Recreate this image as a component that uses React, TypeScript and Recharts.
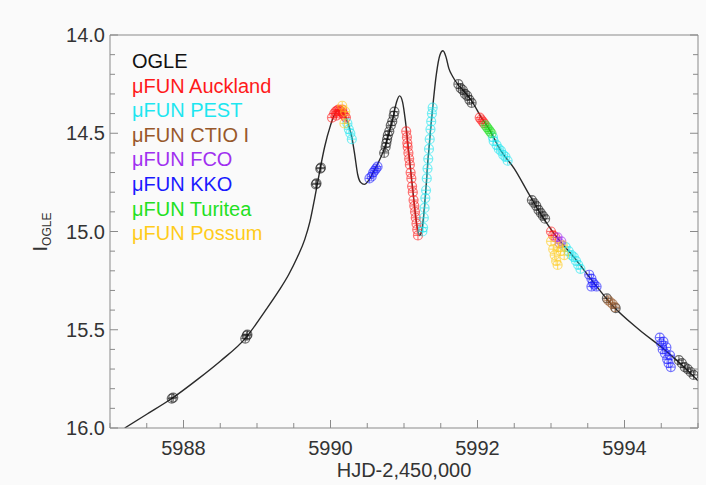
import React from 'react'
import {
  ComposedChart,
  Legend,
  Line,
  Scatter,
  XAxis,
  YAxis,
} from 'recharts'

// model light curve (HJD-2450000, I mag)
const modelDay = [
  5987.2, 5987.5, 5987.84, 5988.2, 5988.5, 5988.85, 5989.1, 5989.3, 5989.43,
  5989.55, 5989.65, 5989.72, 5989.78, 5989.82, 5989.86, 5989.92, 5990.0, 5990.06,
  5990.12, 5990.18, 5990.24, 5990.29, 5990.33, 5990.37, 5990.41, 5990.46,
  5990.52, 5990.58, 5990.65, 5990.72, 5990.78, 5990.85, 5990.9, 5990.94,
  5990.98, 5991.02, 5991.06, 5991.12, 5991.18, 5991.21, 5991.24, 5991.28,
  5991.33, 5991.39, 5991.44, 5991.49, 5991.53, 5991.57, 5991.61, 5991.66,
  5991.73, 5991.8, 5991.91, 5992.07, 5992.16, 5992.31, 5992.5, 5992.7,
  5992.86, 5993.06, 5993.31, 5993.58, 5993.82, 5994.2, 5994.54, 5994.81, 5995.0,
]
const modelMag = [
  16.0, 15.93, 15.85, 15.75, 15.66, 15.54, 15.41, 15.3, 15.22,
  15.13, 15.04, 14.95, 14.84, 14.76, 14.68, 14.57, 14.46, 14.4,
  14.38, 14.4, 14.45, 14.52, 14.61, 14.71, 14.75, 14.76,
  14.74, 14.7, 14.65, 14.59, 14.52, 14.42, 14.34, 14.31,
  14.34, 14.44, 14.58, 14.79, 14.98, 15.02, 15.0, 14.87,
  14.62, 14.37, 14.2, 14.1, 14.08, 14.11, 14.17, 14.21,
  14.25, 14.28, 14.33, 14.43, 14.48, 14.585, 14.68, 14.81,
  14.91, 15.02, 15.13, 15.26, 15.37, 15.5, 15.6, 15.69, 15.76,
]

// observations [day, mag]
const ogle = [
  [5987.84, 15.85], [5987.86, 15.845], [5988.84, 15.545], [5988.86, 15.53],
  [5988.87, 15.525], [5989.8, 14.76], [5989.81, 14.755], [5989.86, 14.68],
  [5989.87, 14.675], [5990.73, 14.6], [5990.75, 14.57], [5990.76, 14.55],
  [5990.77, 14.53], [5990.78, 14.51], [5990.8, 14.49], [5990.82, 14.46],
  [5990.84, 14.44], [5990.86, 14.41], [5990.87, 14.39], [5991.74, 14.25],
  [5991.77, 14.27], [5991.8, 14.28], [5991.83, 14.3], [5991.86, 14.31],
  [5991.89, 14.33], [5991.92, 14.345], [5992.74, 14.84], [5992.77, 14.855],
  [5992.8, 14.87], [5992.83, 14.89], [5992.86, 14.905], [5992.89, 14.92],
  [5992.92, 14.935], [5993.76, 15.34], [5993.88, 15.39], [5994.74, 15.655],
  [5994.78, 15.67], [5994.82, 15.69], [5994.86, 15.7], [5994.9, 15.715],
  [5994.94, 15.73],
]
const auckland = [
  [5990.02, 14.42], [5990.05, 14.4], [5990.07, 14.39], [5990.09, 14.385],
  [5990.11, 14.38], [5990.13, 14.385], [5990.15, 14.39], [5990.17, 14.4],
  [5990.19, 14.41], [5990.08, 14.41], [5990.12, 14.4], [5990.16, 14.38],
  [5990.21, 14.42], [5991.03, 14.49], [5991.04, 14.52], [5991.045, 14.55],
  [5991.05, 14.57], [5991.06, 14.6], [5991.07, 14.63], [5991.08, 14.66],
  [5991.09, 14.7], [5991.1, 14.73], [5991.11, 14.77], [5991.12, 14.8],
  [5991.13, 14.84], [5991.14, 14.87], [5991.15, 14.9], [5991.16, 14.93],
  [5991.17, 14.96], [5991.18, 14.99], [5991.19, 15.02], [5992.03, 14.42],
  [5992.05, 14.43], [5992.07, 14.44], [5992.09, 14.45], [5993.0, 15.0],
  [5993.03, 15.02], [5993.06, 15.03],
]
const pest = [
  [5990.23, 14.45], [5990.25, 14.48], [5990.27, 14.5], [5990.29, 14.53],
  [5991.25, 15.0], [5991.26, 14.98], [5991.27, 14.93], [5991.28, 14.88],
  [5991.29, 14.83], [5991.3, 14.79], [5991.31, 14.73], [5991.32, 14.68],
  [5991.33, 14.63], [5991.34, 14.58], [5991.35, 14.53], [5991.36, 14.48],
  [5991.37, 14.44], [5991.38, 14.4], [5991.39, 14.37], [5992.21, 14.52],
  [5992.22, 14.54], [5992.26, 14.56], [5992.29, 14.58], [5992.32, 14.59],
  [5992.35, 14.61], [5992.38, 14.62], [5992.41, 14.64], [5993.2, 15.08],
  [5993.24, 15.1], [5993.28, 15.12], [5993.31, 15.13], [5993.34, 15.15],
  [5993.37, 15.17], [5993.4, 15.19],
]
const ctio = [[5993.78, 15.35], [5993.81, 15.36], [5993.84, 15.37], [5993.87, 15.385]]
const fco = [[5993.09, 15.03], [5993.12, 15.06], [5993.14, 15.05]]
const kko = [
  [5990.53, 14.73], [5990.56, 14.72], [5990.58, 14.7], [5990.6, 14.69],
  [5990.62, 14.68], [5990.64, 14.67], [5993.52, 15.22], [5993.55, 15.24],
  [5993.57, 15.26], [5993.59, 15.27], [5993.62, 15.28], [5993.55, 15.28],
  [5994.48, 15.54], [5994.5, 15.57], [5994.52, 15.6], [5994.53, 15.56],
  [5994.55, 15.62], [5994.57, 15.59], [5994.58, 15.65], [5994.6, 15.67],
  [5994.62, 15.63], [5994.63, 15.69],
]
const turitea = [[5992.11, 14.46], [5992.13, 14.47], [5992.15, 14.48], [5992.17, 14.49], [5992.19, 14.5]]
const possum = [
  [5990.16, 14.36], [5990.2, 14.39], [5990.19, 14.45], [5993.0, 15.05],
  [5993.03, 15.09], [5993.05, 15.12], [5993.07, 15.15], [5993.1, 15.08],
  [5993.13, 15.1], [5993.16, 15.07], [5993.18, 15.12], [5993.09, 15.17],
]

const seriesNames = [
  'OGLE', 'μFUN Auckland', 'μFUN PEST', 'μFUN CTIO I',
  'μFUN FCO', 'μFUN KKO', 'μFUN Turitea', 'μFUN Possum',
]
const seriesColors = [
  '#111111', '#ff1a1a', '#1ee6f0', '#98582a',
  '#a030f0', '#1a1aff', '#22e022', '#ffcc1a',
]
const seriesData = [ogle, auckland, pest, ctio, fco, kko, turitea, possum]

const xTicks = [
  5987, 5987.5, 5988, 5988.5, 5989, 5989.5, 5990, 5990.5, 5991, 5991.5,
  5992, 5992.5, 5993, 5993.5, 5994, 5994.5, 5995,
]
const xLabels = [5988, 5990, 5992, 5994]
const yTicks = [
  14.0, 14.1, 14.2, 14.3, 14.4, 14.5, 14.6, 14.7, 14.8, 14.9, 15.0,
  15.1, 15.2, 15.3, 15.4, 15.5, 15.6, 15.7, 15.8, 15.9, 16.0,
]
const yLabels = [14.0, 14.5, 15.0, 15.5, 16.0]

const model = modelDay.map((x, i) => ({ x, y: modelMag[i] }))
const toPts = (arr: number[][]) => arr.map(([x, y]) => ({ x, y }))

const FONT = '"Liberation Sans", Arial, Helvetica, sans-serif'
const AXIS = '#8a8a8a'
const TEXT = '#333333'

const Marker = (props: any) => {
  const { cx, cy, color } = props
  if (cx == null || cy == null) return null
  return (
    <g stroke={color} strokeOpacity={0.6} fill="none" strokeWidth={1.2}>
      <circle cx={cx} cy={cy} r={4.5} />
      <line x1={cx - 4} x2={cx + 4} y1={cy} y2={cy} />
      <line x1={cx} x2={cx} y1={cy - 4} y2={cy + 4} />
    </g>
  )
}

const BottomTick = (props: any) => {
  const { x, y, payload } = props
  const major = xLabels.includes(payload.value)
  return (
    <g>
      <line x1={x} x2={x} y1={y} y2={y - (major ? 8 : 5)} stroke={AXIS} />
      {major && (
        <text x={x} y={y + 27} textAnchor="middle" fontSize={20} fontFamily={FONT} fill={TEXT}>
          {payload.value}
        </text>
      )}
    </g>
  )
}

const TopTick = (props: any) => {
  const { x, y, payload } = props
  const major = xLabels.includes(payload.value)
  return <line x1={x} x2={x} y1={y} y2={y + (major ? 8 : 5)} stroke={AXIS} />
}

const LeftTick = (props: any) => {
  const { x, y, payload } = props
  const major = yLabels.includes(payload.value)
  return (
    <g>
      <line x1={x} x2={x + (major ? 8 : 5)} y1={y} y2={y} stroke={AXIS} />
      {major && (
        <text x={x - 5} y={y} dy="0.36em" textAnchor="end" fontSize={20} fontFamily={FONT} fill={TEXT}>
          {payload.value.toFixed(1)}
        </text>
      )}
    </g>
  )
}

const RightTick = (props: any) => {
  const { x, y, payload } = props
  const major = yLabels.includes(payload.value)
  return <line x1={x} x2={x - (major ? 8 : 5)} y1={y} y2={y} stroke={AXIS} />
}

const renderXLabel = () => (
  <text x={404} y={477} textAnchor="middle" fontSize={20} fontFamily={FONT} fill={TEXT}>
    HJD-2,450,000
  </text>
)

const renderYLabel = () => (
  <text
    x={47}
    y={232}
    transform="rotate(-90, 47, 232)"
    textAnchor="middle"
    fontFamily={FONT}
    fill={TEXT}
  >
    <tspan fontSize={20}>I</tspan>
    <tspan fontSize={12} dy={4}>OGLE</tspan>
  </text>
)

const LegendBox = () => (
  <div style={{ fontFamily: FONT, fontSize: 20, lineHeight: '24.6px', whiteSpace: 'nowrap' }}>
    {seriesNames.map((name, i) => (
      <div key={name} style={{ color: seriesColors[i] }}>{name}</div>
    ))}
  </div>
)

export default function App() {
  return (
    <div style={{ position: 'absolute', left: 0, top: 0, width: 706, height: 485, background: '#fafafa' }}>
      <ComposedChart width={706} height={485} margin={{ top: 0, right: 0, bottom: 0, left: 0 }}>
        <XAxis
          dataKey="x"
          type="number"
          domain={[5987, 5995]}
          allowDataOverflow
          ticks={xTicks}
          interval={0}
          height={57}
          tickSize={0}
          tickMargin={0}
          tick={<BottomTick />}
          stroke={AXIS}
          label={renderXLabel}
        />
        <XAxis
          xAxisId="top"
          orientation="top"
          type="number"
          domain={[5987, 5995]}
          allowDataOverflow
          ticks={xTicks}
          interval={0}
          height={35}
          tickSize={0}
          tickMargin={0}
          tick={<TopTick />}
          stroke={AXIS}
        />
        <YAxis
          dataKey="y"
          type="number"
          domain={[14, 16]}
          reversed
          allowDataOverflow
          ticks={yTicks}
          interval={0}
          width={110}
          tickSize={0}
          tickMargin={0}
          tick={<LeftTick />}
          stroke={AXIS}
          label={renderYLabel}
        />
        <YAxis
          yAxisId="right"
          orientation="right"
          type="number"
          domain={[14, 16]}
          reversed
          allowDataOverflow
          ticks={yTicks}
          interval={0}
          width={8}
          tickSize={0}
          tickMargin={0}
          tick={<RightTick />}
          stroke={AXIS}
        />
        <Legend
          layout="horizontal"
          verticalAlign="middle"
          align="center"
          content={<LegendBox />}
          wrapperStyle={{ position: 'absolute', top: 49, left: 132, width: 'auto', height: 'auto' }}
        />
        <Line
          data={model}
          dataKey="y"
          type="monotone"
          stroke="#2a2a2a"
          strokeWidth={1.4}
          dot={false}
          activeDot={false}
          isAnimationActive={false}
          legendType="none"
        />
        {seriesData.map((arr, i) => (
          <Scatter
            key={seriesNames[i]}
            name={seriesNames[i]}
            data={toPts(arr)}
            dataKey="y"
            isAnimationActive={false}
            shape={(p: any) => <Marker {...p} color={seriesColors[i]} />}
          />
        ))}
      </ComposedChart>
    </div>
  )
}
